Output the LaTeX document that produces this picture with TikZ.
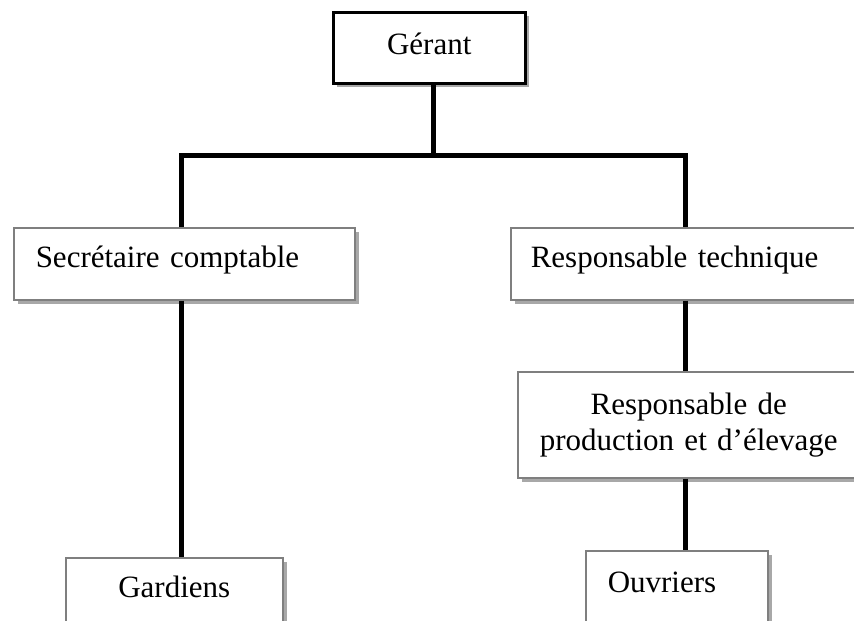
\documentclass[tikz,border=0pt]{standalone}
\usepackage{fontspec}
\setmainfont{Liberation Serif}
\usetikzlibrary{positioning, shadows}
\definecolor{boxline}{HTML}{7F7F7F}
\definecolor{shade}{HTML}{A8A8A8}

\begin{document}
\begin{tikzpicture}[
  x=1pt, y=-1pt,
  every node/.style={font=\fontsize{31}{36}\selectfont},
  post/.style={draw=boxline, line width=1.5pt, fill=white, anchor=north west,
               inner ysep=0pt,
               drop shadow={shadow xshift=4pt, shadow yshift=-4pt, fill=shade, opacity=1}},
  link/.style={line width=5pt},
]
  \useasboundingbox (0,0) rectangle (854,621);
  \clip (0,0) rectangle (854,621);

  % boxes
  \node[post, draw=black, line width=2.5pt, text width=172pt, inner xsep=10pt,
        align=center, text height=42pt, text depth=29pt] (ger) at (332,11) {Gérant};
  \node[post, text width=297pt, inner xsep=22pt, align=left,
        text height=40pt, text depth=32pt] (sec) at (13,227) {Secrétaire comptable};
  \node[post, text width=310pt, inner xsep=20pt, align=left,
        text height=40pt, text depth=32pt] (tech) at (510,227) {Responsable technique};
  \node[post, text width=322pt, inner xsep=10pt, align=center,
        minimum height=106pt] (prod) at (517,371) {Responsable de\\production et d’élevage};
  \node[post, text width=197pt, inner xsep=10pt, align=center,
        text height=40pt, text depth=80pt] (gard) at (65,557) {Gardiens};
  \node[post, text width=138pt, inner xsep=22pt, align=left,
        text height=42pt, text depth=80pt] (ouv) at (585,550) {Ouvriers};

  % connectors
  \coordinate (bar) at (433,155);
  \draw[link] (ger.south -| bar) -- (bar);
  \draw[link] ([xshift=-3pt]sec.north) |- (bar) -| (tech.north);
  \draw[link] ([xshift=-3pt]sec.south) -- ([xshift=-3pt]sec.south |- gard.north);
  \draw[link] (tech.south) -- (tech.south |- prod.north);
  \draw[link] (prod.south -| tech.south) -- (tech.south |- ouv.north);
\end{tikzpicture}
\end{document}
